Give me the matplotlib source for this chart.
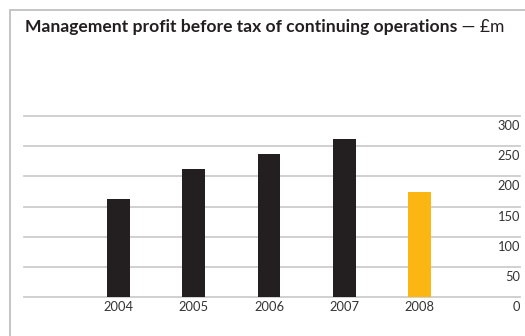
import matplotlib
matplotlib.use("Agg")
import matplotlib.pyplot as plt
import matplotlib.transforms as mtransforms
from matplotlib.patches import Rectangle

years = ["2004", "2005", "2006", "2007", "2008"]
profit = [162, 212, 237, 262, 174]
bar_colors = ["#231f20", "#231f20", "#231f20", "#231f20", "#fbb614"]
yticks = [0, 50, 100, 150, 200, 250, 300]
title_bold = "Management profit before tax of continuing operations"
title_unit = " \u2014 \u00a3m"

plt.rcParams["font.family"] = ["Lato", "DejaVu Sans"]

W, H = 525, 336
fig = plt.figure(figsize=(W / 100, H / 100), dpi=100)
fig.patch.set_facecolor("white")

# outer panel border (top and left edges visible)
fig.add_artist(Rectangle((10 / W, -0.1), 1.2, (H - 10) / H + 0.1,
                         transform=fig.transFigure, fill=False,
                         edgecolor="#c4c4c4", lw=1.4))

ax = fig.add_axes([24 / W, 39 / H, 496 / W, 181 / H])
x = list(range(len(years)))
ax.bar(x, profit, width=0.3, color=bar_colors, zorder=3)
ax.set_xlim(-1.25, 5.33)
ax.set_ylim(0, 300)

for v in yticks:
    ax.axhline(v, color="#c8c8c8", lw=1.2, clip_on=False, zorder=1)

trans = mtransforms.blended_transform_factory(ax.transAxes, ax.transData)
off = mtransforms.ScaledTranslation(0, -3 / 72, fig.dpi_scale_trans)
for v in yticks:
    ax.text(1.0, v, str(v), transform=trans + off, ha="right", va="top",
            fontsize=9.3, color="#333333")

for xi, yr in zip(x, years):
    ax.text(xi, 0, yr, transform=ax.transData + off, ha="center", va="top",
            fontsize=9.3, color="#333333")

ax.set_xticks([])
ax.set_yticks([])
for s in ax.spines.values():
    s.set_visible(False)
ax.patch.set_alpha(0)

t1 = fig.text(25 / W, 1 - 27 / H, title_bold, fontsize=12.6, fontweight="bold",
              va="center", ha="left", color="#231f20")
fig.canvas.draw()
bb = t1.get_window_extent()
fig.text(bb.x1 / W, 1 - 27 / H, title_unit, fontsize=12.6, va="center",
         ha="left", color="#231f20")

fig.savefig("out.png", dpi=100)
